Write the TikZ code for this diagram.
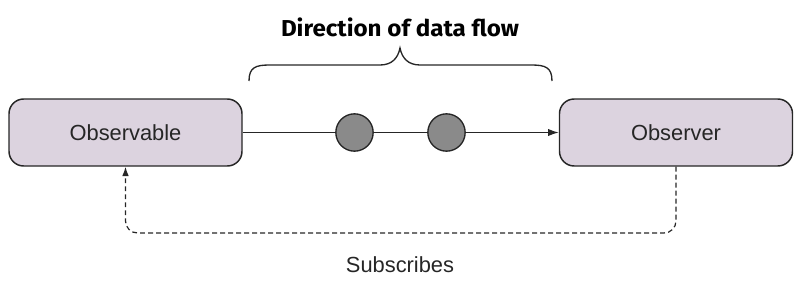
\documentclass[tikz,border=0pt]{standalone}
\usepackage{fontspec}
\setmainfont{Liberation Sans}
\newfontfamily\titlefont{Fira Sans}
\usetikzlibrary{arrows.meta,decorations.pathreplacing}
\definecolor{boxfill}{HTML}{DCD3DF}
\definecolor{dotfill}{HTML}{8A8A8A}
\begin{document}
\begin{tikzpicture}[x=0.75pt,y=-0.75pt,
  box/.style={draw=black!85,line width=1.1pt,fill=boxfill,rounded corners=11pt,minimum width=174.75pt,minimum height=50.25pt,inner sep=0pt,font=\fontsize{16.4pt}{19pt}\selectfont,text=black!85},
  dot/.style={circle,draw=black!85,line width=1pt,fill=dotfill,minimum size=28pt,inner sep=0pt},
  flow/.style={draw=black!85,line width=0.9pt},
  sub/.style={draw=black!85,line width=0.9pt,dash pattern=on 3.6pt off 2.4pt,rounded corners=9pt}]
\useasboundingbox (0,0) rectangle (804,300);
\node[box] (obl) at (125.5,132.5) {Observable};
\node[box] (obr) at (676,132.5) {Observer};
\node[dot] (d1) at (354.5,132.5) {};
\node[dot] (d2) at (446.5,132.5) {};
\draw[flow] (obl.east) -- (d1.west);
\draw[flow] (d1.east) -- (d2.west);
\draw[flow,-{Latex[length=8pt,width=5.5pt]}] (d2.east) -- (obr.west);
\coordinate (bl) at (249,81);
\coordinate (br) at (552,81);
\draw[flow,line width=1pt] (bl) .. controls (249,67) and (256,65) .. (270,65) -- (380,65) .. controls (392,65) and (398,58) .. (400,48)
  .. controls (402,58) and (408,65) .. (420,65) -- (531,65) .. controls (545,65) and (552,67) .. (br);
\node[inner sep=0pt,anchor=base] (title) at (400,36) {\resizebox{178.5pt}{14pt}{\titlefont\bfseries Direction of data flow}};
\draw[sub,-{Latex[length=7pt,width=5pt]}] (obr.south) -- (676,233) -- (125.5,233) -- (obl.south);
\node[font=\fontsize{16.4pt}{19pt}\selectfont,text=black!85,anchor=base] (lbl) at (400,272) {Subscribes};
\end{tikzpicture}
\end{document}
